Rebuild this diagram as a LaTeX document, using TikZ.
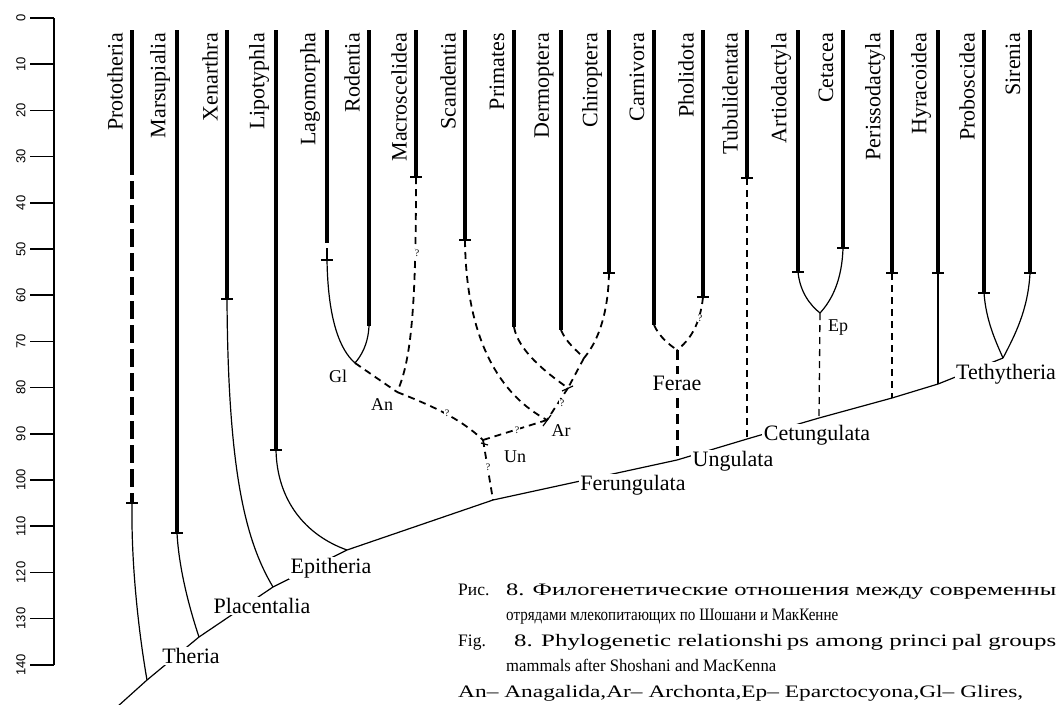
\documentclass[tikz,border=0pt]{standalone}
\usepackage{fontspec}
\setmainfont{Liberation Serif}
\newfontfamily\axisfont{Liberation Sans}
\newcommand{\crossbar}[1]{\draw[stem] ([xshift=-6pt]#1) -- ([xshift=6pt]#1);}

\begin{document}
\begin{tikzpicture}[x=1pt,y=-1pt,
  bar/.style={line width=4.5pt},
  stem/.style={line width=1.2pt},
  dashlink/.style={line width=1.8pt,dash pattern=on 7pt off 5pt},
  thindash/.style={line width=1.3pt,dash pattern=on 7pt off 5pt},
  feraedash/.style={line width=3pt,dash pattern=on 10pt off 6pt},
  heavydash/.style={line width=4.5pt,dash pattern=on 18pt off 6pt},
  taxon/.style={rotate=90,anchor=east,inner sep=0pt,font=\fontsize{22}{24}\selectfont},
  clade/.style={fill=white,inner sep=1.5pt,font=\fontsize{22}{24}\selectfont},
  group/.style={inner sep=1pt,font=\fontsize{18}{20}\selectfont},
  query/.style={fill=white,inner sep=0.5pt,font=\fontsize{10}{10}\selectfont},
  tick/.style={line width=1.5pt},
  years/.style={rotate=90,inner sep=0pt,font=\axisfont\fontsize{13}{13}\selectfont},
  capline/.style={anchor=base west,inner sep=0pt,font=\fontsize{17.5}{20}\selectfont}]

\useasboundingbox (0,0) rectangle (1062,704);

% time scale
\draw[tick] (54,18) -- (54,665);
\draw[tick] (30,18) -- (54,18);     \node[years] (y0) at (21,18) {0};
\draw[tick] (30,64.2) -- (54,64.2);   \node[years] (y10) at (21,64.2) {10};
\draw[tick] (30,110.4) -- (54,110.4); \node[years] (y20) at (21,110.4) {20};
\draw[tick] (30,156.6) -- (54,156.6); \node[years] (y30) at (21,156.6) {30};
\draw[tick] (30,202.8) -- (54,202.8); \node[years] (y40) at (21,202.8) {40};
\draw[tick] (30,249) -- (54,249);     \node[years] (y50) at (21,249) {50};
\draw[tick] (30,295.2) -- (54,295.2); \node[years] (y60) at (21,295.2) {60};
\draw[tick] (30,341.4) -- (54,341.4); \node[years] (y70) at (21,341.4) {70};
\draw[tick] (30,387.6) -- (54,387.6); \node[years] (y80) at (21,387.6) {80};
\draw[tick] (30,433.8) -- (54,433.8); \node[years] (y90) at (21,433.8) {90};
\draw[tick] (30,480) -- (54,480);     \node[years] (y100) at (21,480) {100};
\draw[tick] (30,526.2) -- (54,526.2); \node[years] (y110) at (21,526.2) {110};
\draw[tick] (30,572.4) -- (54,572.4); \node[years] (y120) at (21,572.4) {120};
\draw[tick] (30,618.6) -- (54,618.6); \node[years] (y130) at (21,618.6) {130};
\draw[tick] (30,664.8) -- (54,664.8); \node[years] (y140) at (21,664.8) {140};

% branching points
\coordinate (root) at (117,707);
\coordinate (mam) at (147,680);
\coordinate (ther) at (199,637);
\coordinate (plac) at (273,587);
\coordinate (epi) at (347,550);
\coordinate (ungj) at (493,500);
\coordinate (fer) at (677,460);
\coordinate (cet) at (747,439);
\coordinate (epj) at (819,418);
\coordinate (perj) at (892,398);
\coordinate (hyrj) at (938,384);
\coordinate (teth) at (1003,358);
\coordinate (gl) at (355,363);
\coordinate (an) at (397,392);
\coordinate (unj) at (483,440);
\coordinate (ar) at (547,420);
\coordinate (prj) at (568,388);
\coordinate (chj) at (584,358);
\coordinate (fy) at (677,350);
\coordinate (ev) at (820,313);

% main stem
\draw[stem] (root) -- (mam) -- (ther) -- (plac) -- (epi) -- (ungj) -- (fer) -- (cet) -- (epj) -- (perj) -- (hyrj) -- (teth);

% Prototheria
\draw[bar] (132,30) -- (132,157) coordinate (protoM);
\draw[heavydash] (protoM) -- (132,503) coordinate (protoB);
\crossbar{protoB}
\draw[stem] (protoB) .. controls (131,570) and (140,640) .. (mam);
% Marsupialia
\draw[bar] (177,30) -- (177,533) coordinate (marsB);
\crossbar{marsB}
\draw[stem] (marsB) .. controls (179,570) and (190,610) .. (ther);
% Xenarthra
\draw[bar] (227,30) -- (227,299) coordinate (xenB);
\crossbar{xenB}
\draw[stem] (xenB) .. controls (228,470) and (245,540) .. (plac);
% Lipotyphla
\draw[bar] (276,30) -- (276,450) coordinate (lipB);
\crossbar{lipB}
\draw[stem] (lipB) .. controls (277,500) and (305,535) .. (epi);
% Lagomorpha, Rodentia
\draw[bar] (327,30) -- (327,243);
\draw[stem] (327,248) -- (327,260) coordinate (lagB);
\crossbar{lagB}
\draw[stem] (lagB) .. controls (328,320) and (340,350) .. (gl);
\draw[bar] (369,30) -- (369,326) coordinate (rodB);
\draw[stem] (rodB) .. controls (368,345) and (361,356) .. (gl);
% Macroscelidea
\draw[bar] (416,30) -- (416,177) coordinate (macB);
\crossbar{macB}
\draw[dashlink] (macB) .. controls (416,300) and (412,360) .. (an);
\draw[dashlink] (gl) -- (an);
\draw[dashlink] (an) .. controls (430,405) and (460,418) .. (unj);
\draw[dashlink] (unj) -- (ungj);
\draw[stem] ([xshift=-2pt,yshift=-3pt]unj) -- ([xshift=5pt,yshift=-5pt]unj);
% Scandentia, Primates, Dermoptera, Chiroptera
\draw[bar] (465,30) -- (465,240) coordinate (scaB);
\crossbar{scaB}
\draw[dashlink] (scaB) .. controls (466,340) and (500,395) .. (ar);
\draw[bar] (514,30) -- (514,327) coordinate (priB);
\draw[dashlink] (priB) .. controls (518,350) and (545,372) .. (prj);
\draw[bar] (561,30) -- (561,330) coordinate (derB);
\draw[dashlink] (derB) .. controls (566,342) and (576,350) .. (chj);
\draw[bar] (609,30) -- (609,273) coordinate (chiB);
\crossbar{chiB}
\draw[dashlink] (chiB) .. controls (608,320) and (595,345) .. (chj);
\draw[dashlink] (chj) -- (prj);
\draw[stem] ([xshift=-6pt,yshift=-3pt]prj) -- ([xshift=5pt,yshift=2pt]prj);
\draw[dashlink] (prj) -- (ar);
\draw[stem] ([xshift=-4pt,yshift=-6pt]ar) -- ([xshift=4pt,yshift=5pt]ar);
\draw[dashlink] (ar) -- (unj);
% Carnivora, Pholidota
\draw[bar] (654,30) -- (654,325) coordinate (carB);
\draw[dashlink] (carB) .. controls (660,338) and (670,345) .. (fy);
\draw[bar] (703,30) -- (703,297) coordinate (phoB);
\crossbar{phoB}
\draw[dashlink] (phoB) .. controls (700,325) and (690,340) .. (fy);
\draw[feraedash] (fy) -- (fer);
% Tubulidentata
\draw[bar] (747,30) -- (747,178) coordinate (tubB);
\crossbar{tubB}
\draw[dashlink] (tubB) -- (cet);
% Artiodactyla, Cetacea
\draw[bar] (798,30) -- (798,272) coordinate (artB);
\crossbar{artB}
\draw[stem] (artB) .. controls (800,292) and (810,305) .. (ev);
\draw[bar] (843,30) -- (843,248) coordinate (cetaB);
\crossbar{cetaB}
\draw[stem] (cetaB) .. controls (842,280) and (832,300) .. (ev);
\draw[thindash] (ev) -- (epj);
% Perissodactyla, Hyracoidea
\draw[bar] (892,30) -- (892,273) coordinate (perB);
\crossbar{perB}
\draw[dashlink] (perB) -- (perj);
\draw[bar] (938,30) -- (938,273) coordinate (hyrB);
\crossbar{hyrB}
\draw[line width=2pt] (hyrB) -- (hyrj);
% Proboscidea, Sirenia
\draw[bar] (984,30) -- (984,293) coordinate (proB);
\crossbar{proB}
\draw[stem] (proB) .. controls (986,320) and (995,340) .. (teth);
\draw[bar] (1030,30) -- (1030,273) coordinate (sirB);
\crossbar{sirB}
\draw[stem] (sirB) .. controls (1028,310) and (1015,335) .. (teth);

% orders
\node[taxon] (proto) at (115,33) {Prototheria};
\node[taxon] (mars) at (160,33) {Marsupialia};
\node[taxon] (xen) at (210,33) {Xenarthra};
\node[taxon] (lip) at (259,33) {Lipotyphla};
\node[taxon] (lag) at (310,33) {Lagomorpha};
\node[taxon] (rod) at (352,33) {Rodentia};
\node[taxon] (mac) at (399,33) {Macroscelidea};
\node[taxon] (sca) at (448,33) {Scandentia};
\node[taxon] (pri) at (497,33) {Primates};
\node[taxon] (der) at (544,33) {Dermoptera};
\node[taxon] (chi) at (592,33) {Chiroptera};
\node[taxon] (car) at (637,33) {Carnivora};
\node[taxon] (pho) at (686,33) {Pholidota};
\node[taxon] (tub) at (730,33) {Tubulidentata};
\node[taxon] (art) at (781,33) {Artiodactyla};
\node[taxon] (ceta) at (826,33) {Cetacea};
\node[taxon] (per) at (875,33) {Perissodactyla};
\node[taxon] (hyr) at (921,33) {Hyracoidea};
\node[taxon] (pro) at (967,33) {Proboscidea};
\node[taxon] (sir) at (1013,33) {Sirenia};

% question marks
\node[query] (q1) at (417,253) {?};
\node[query] (q2) at (447,413) {?};
\node[query] (q3) at (517,430) {?};
\node[query] (q4) at (488,467) {?};
\node[query] (q5) at (562,403) {?};
\node[query] (q6) at (700,318) {?};

% groups
\node[group] (glL) at (338,376) {Gl};
\node[group] (anL) at (382,405) {An};
\node[group] (arL) at (561,431) {Ar};
\node[group] (unL) at (515,457) {Un};
\node[group] (epL) at (838,328) {Ep};

% clades
\node[clade] (theriaL) at (191,656) {Theria};
\node[clade] (placL) at (262,606) {Placentalia};
\node[clade] (epiL) at (331,568) {Epitheria};
\node[clade] (feraeL) at (677,383) {Ferae};
\node[clade] (ferL) at (633,485) {Ferungulata};
\node[clade] (ungL) at (733,461) {Ungulata};
\node[clade] (cetL) at (817,435) {Cetungulata};
\node[clade] (tethL) at (1006,374) {Tethytheria};

% caption
\node[capline] (cap1) at (458,595) {Рис.};
\node[capline] (cap1b) at (506,595) {\resizebox{550pt}{\height}{8. Филогенетические отношения между современны}};
\node[capline] (cap2) at (506,620.5) {\resizebox{332pt}{\height}{отрядами млекопитающих по Шошани и МакКенне}};
\node[capline] (cap3) at (458,646) {Fig.};
\node[capline] (cap3b) at (514,646) {\resizebox{542pt}{\height}{8. Phylogenetic relationshi\kern3pt ps among princi\kern3pt pal groups}};
\node[capline] (cap4) at (506,671.5) {\resizebox{270pt}{\height}{mammals after Shoshani and MacKenna}};
\node[capline] (cap5) at (458,697) {\resizebox{565pt}{\height}{An– Anagalida,Ar– Archonta,Ep– Eparctocyona,Gl– Glires,}};
\end{tikzpicture}
\end{document}
